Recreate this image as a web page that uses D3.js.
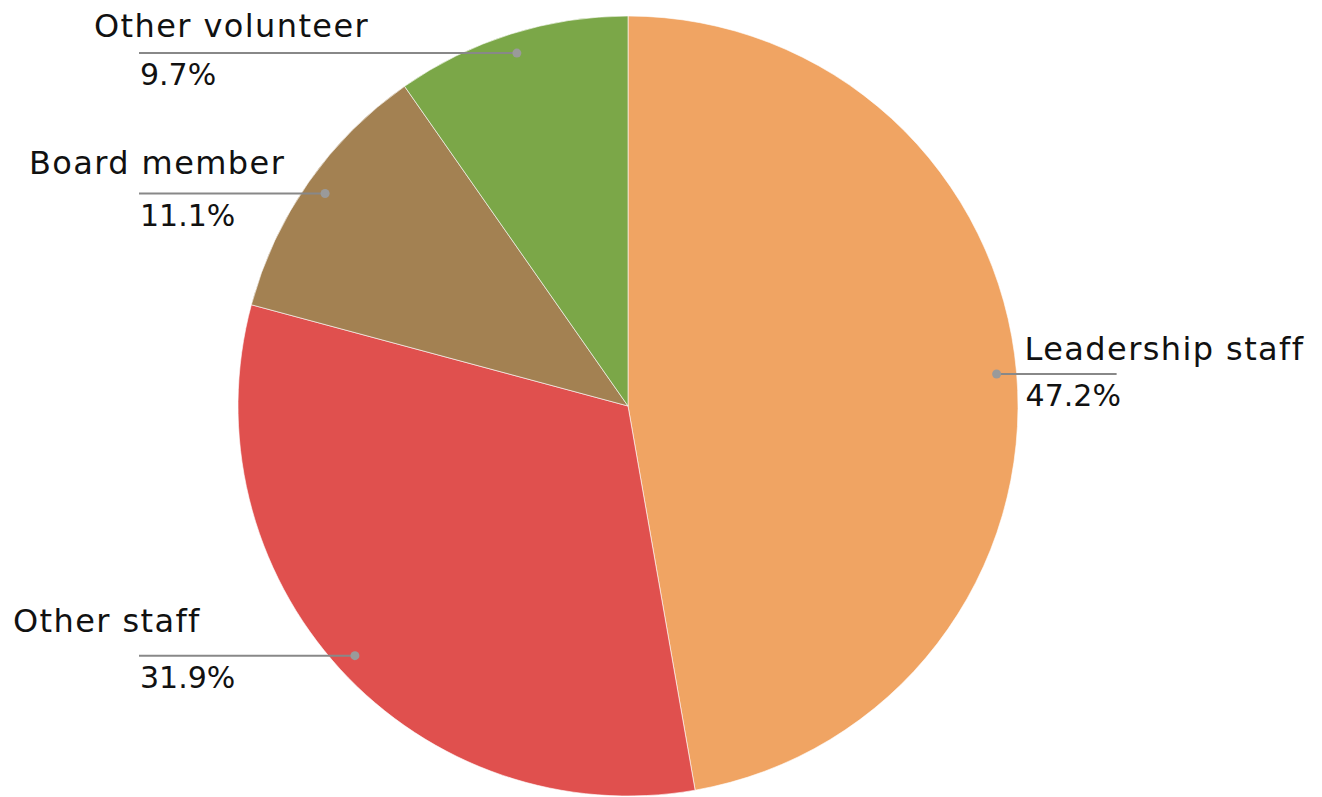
<!DOCTYPE html>
<html>
<head>
<meta charset="utf-8">
<script src="https://cdn.jsdelivr.net/npm/d3@7"></script>
<style>
  html, body { margin: 0; padding: 0; background: #fff; }
  svg { display: block; }
  .name { font-family: "DejaVu Sans", sans-serif; font-size: 32px; letter-spacing: 1.4px; fill: #111; }
  .pct { font-family: "DejaVu Sans", sans-serif; font-size: 30px; fill: #111; }
</style>
</head>
<body>
<svg id="chart" width="1322" height="797"></svg>
<script>
// Share of respondents by role
const categories = ["Leadership staff", "Other staff", "Board member", "Other volunteer"];
const shares = [47.2, 31.9, 11.1, 9.7];
const colors = ["#F0A463", "#E0504E", "#A38152", "#7BA748"];

const W = 1322, H = 797;
const cx = 628, cy = 406, R = 390;
const dotR = 370;          // where the leader line starts inside each slice
const leftEdge = 139;      // left-side leader lines run out to this x

// Per-label nudges for the category name above each leader line
const nameOffset = {
  "Leadership staff": { dx: 28, dy: -14 },
  "Other staff": { dx: -126, dy: -24 },
  "Board member": { dx: -110, dy: -20 },
  "Other volunteer": { dx: -45, dy: -16 }
};

const data = categories.map((c, i) => ({ name: c, value: shares[i], color: colors[i] }));

const svg = d3.select("#chart");
const g = svg.append("g").attr("transform", `translate(${cx},${cy})`);

const pie = d3.pie().sort(null).value(d => d.value).startAngle(0).endAngle(2 * Math.PI);
const arc = d3.arc().innerRadius(0).outerRadius(R);
const dotArc = d3.arc().innerRadius(dotR).outerRadius(dotR);

const arcs = pie(data);

g.selectAll("path.slice")
  .data(arcs)
  .join("path")
  .attr("class", "slice")
  .attr("d", arc)
  .attr("fill", d => d.data.color)
  .attr("stroke", "#fff")
  .attr("stroke-opacity", 0.6)
  .attr("stroke-width", 1);

const labels = g.selectAll("g.label")
  .data(arcs)
  .join("g")
  .attr("class", "label");

labels.each(function(d) {
  const sel = d3.select(this);
  const [px, py] = dotArc.centroid(d);
  const mid = (d.startAngle + d.endAngle) / 2;
  const right = mid < Math.PI;
  const off = nameOffset[d.data.name];
  const lineEnd = right ? px + 120 : leftEdge - cx;
  const textX = right ? px + off.dx : leftEdge - cx;

  sel.append("line")
    .attr("x1", px).attr("y1", py)
    .attr("x2", lineEnd).attr("y2", py)
    .attr("stroke", "#888")
    .attr("stroke-width", 2);

  sel.append("circle")
    .attr("cx", px).attr("cy", py)
    .attr("r", 4.5)
    .attr("fill", "#9a9a9a");

  sel.append("text")
    .attr("class", "name")
    .attr("x", right ? textX : leftEdge - cx + off.dx)
    .attr("y", py + off.dy)
    .text(d.data.name);

  sel.append("text")
    .attr("class", "pct")
    .attr("x", textX + 1)
    .attr("y", py + 32)
    .text(d3.format(".1f")(d.data.value) + "%");
});
</script>
</body>
</html>
